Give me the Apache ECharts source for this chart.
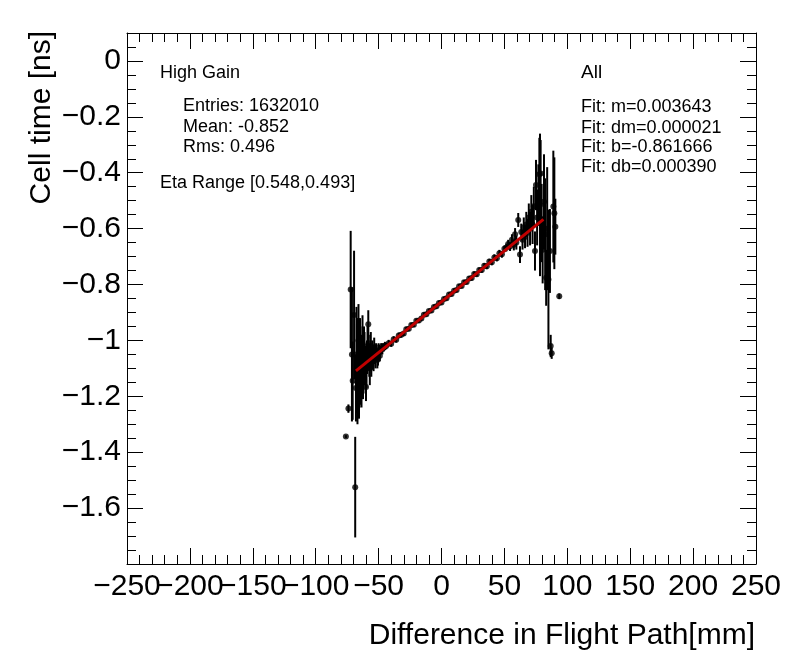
<!DOCTYPE html>
<html>
<head>
<meta charset="utf-8">
<script src="https://cdn.jsdelivr.net/npm/echarts@6/dist/echarts.min.js"></script>
<style>
  html, body { margin: 0; padding: 0; background: #fff; }
  #chart { width: 796px; height: 672px; }
</style>
</head>
<body>
<div id="chart"></div>
<script>
// profile points: x [mm], mean cell time [ns], error
var xs = [
  -76.0, -74.0, -72.2, -71.2, -70.6, -69.5, -68.6, -68.0, -67.2, -66.4,
  -65.6, -64.8, -64.0, -63.2, -62.4, -61.6, -60.8, -60.0, -59.2, -58.2,
  -57.4, -56.6, -55.8, -55.0, -54.0, -53.0, -52.0, -51.0, -50.0, -49.0,
  -48.0, -47.0, -46.0, -45.0, -44.0,
  -67.6, -66.8, -66.0, -65.2, -64.4, -63.6, -62.8, -62.0, -61.2, -59.6,
  -58.8, -57.8, -57.0, -56.2, -54.5, -53.5, -52.5, -51.5, -50.5, -49.5,
  -42, -40, -38, -36, -34, -32, -30, -28, -26, -24,
  -22, -20, -18, -16, -14, -12, -10, -8, -6, -4,
  -2, 0, 2, 4, 6, 8, 10, 12, 14, 16,
  18, 20, 22, 24, 26, 28, 30, 32, 34, 36,
  38, 40, 42, 44, 46, 48,
  50.0, 51.5, 53.0, 54.5, 56.0, 57.5, 58.5, 59.5, 61.0, 62.4,
  63.4, 64.4, 65.4, 66.4, 67.4, 68.4, 69.4, 70.4, 71.4, 72.4,
  73.4, 74.3, 75.1, 76.0, 77.0, 77.8, 78.3, 78.8, 79.6, 80.4,
  81.5, 82.4, 83.2, 84.0, 85.0, 86.2, 86.8, 87.6, 88.9, 89.7,
  90.5, 93.6
];
var ys = [
  -1.344, -1.244, -0.818, -1.050, -1.144, -0.909, -1.525, -1.170, -1.100, -1.060,
  -1.160, -1.020, -1.120, -1.070, -1.130, -1.030, -1.090, -1.167, -1.060, -0.942,
  -1.080, -1.050, -1.090, -1.040, -1.070, -1.050, -1.040, -1.070, -1.035, -1.055,
  -1.030, -1.030, -1.025, -1.020, -1.020,
  -1.050, -1.150, -1.000, -1.100, -1.060, -1.140, -1.010, -1.100, -1.050, -1.100,
  -1.020, -1.040, -1.100, -1.020, -1.060, -1.030, -1.065, -1.045, -1.060, -1.040,
  -1.010, -1.012, -0.996, -0.998, -0.982, -0.980, -0.975, -0.960, -0.958, -0.945,
  -0.944, -0.930, -0.929, -0.922, -0.908, -0.906, -0.895, -0.893, -0.880, -0.878,
  -0.866, -0.864, -0.852, -0.849, -0.836, -0.834, -0.822, -0.820, -0.806, -0.805,
  -0.792, -0.791, -0.778, -0.777, -0.762, -0.763, -0.748, -0.748, -0.733, -0.735,
  -0.718, -0.720, -0.703, -0.706, -0.688, -0.692,
  -0.672, -0.668, -0.655, -0.664, -0.640, -0.658, -0.620, -0.650, -0.569, -0.693,
  -0.612, -0.640, -0.595, -0.630, -0.585, -0.615, -0.560, -0.600, -0.540, -0.585,
  -0.520, -0.680, -0.444, -0.560, -0.480, -0.405, -0.515, -0.403, -0.580, -0.676,
  -0.504, -0.620, -0.776, -0.600, -0.782, -0.680, -1.020, -1.046, -0.521, -0.545,
  -0.593, -0.842
];
var errs = [
  0.005, 0.015, 0.210, 0.240, 0.140, 0.230, 0.180, 0.120, 0.160, 0.140,
  0.120, 0.100, 0.110, 0.090, 0.080, 0.080, 0.070, 0.050, 0.060, 0.050,
  0.050, 0.050, 0.040, 0.040, 0.040, 0.035, 0.030, 0.030, 0.025, 0.020,
  0.020, 0.020, 0.015, 0.015, 0.012,
  0.170, 0.150, 0.130, 0.140, 0.110, 0.100, 0.100, 0.090, 0.080, 0.070,
  0.070, 0.060, 0.060, 0.050, 0.045, 0.040, 0.035, 0.030, 0.030, 0.025,
  0.012, 0.011, 0.011, 0.010, 0.010, 0.010, 0.009, 0.009, 0.009, 0.008,
  0.008, 0.008, 0.008, 0.008, 0.008, 0.008, 0.008, 0.008, 0.008, 0.008,
  0.008, 0.008, 0.008, 0.008, 0.008, 0.008, 0.008, 0.008, 0.008, 0.008,
  0.008, 0.008, 0.008, 0.009, 0.009, 0.009, 0.009, 0.010, 0.010, 0.010,
  0.010, 0.011, 0.011, 0.011, 0.012, 0.012,
  0.012, 0.014, 0.015, 0.016, 0.020, 0.020, 0.022, 0.025, 0.025, 0.030,
  0.030, 0.035, 0.035, 0.040, 0.045, 0.050, 0.050, 0.060, 0.060, 0.070,
  0.070, 0.070, 0.090, 0.100, 0.110, 0.130, 0.255, 0.120, 0.140, 0.120,
  0.170, 0.200, 0.100, 0.220, 0.250, 0.150, 0.040, 0.020, 0.200, 0.200,
  0.100, 0.010
];

// fit line end points (m=0.003643, b=-0.861666)
var fitX = [-68, 81];
var fitY = [-1.109, -0.567];

var xTicks = { min: -250, max: 250, step: 50 };
var yTicks = { min: -1.8, max: 0.1, step: 0.2 };

var chart = echarts.init(document.getElementById('chart'));

var points = xs.map(function (x, i) { return [x, ys[i], errs[i]]; });
var fitLine = fitX.map(function (x, i) { return [x, fitY[i]]; });

var FONT = '"Liberation Sans", Arial, Helvetica, sans-serif';

function minus(v) {
  return String(v).replace('-', '\u2212');
}

// the bottom labels touch each other, so they are split over two axes
// (odd / even multiples of 50) to stop echarts hiding any of them
function xAxisDef(pos, labels, parity, ticks) {
  return {
    type: 'value', position: pos,
    min: xTicks.min, max: xTicks.max, interval: xTicks.step,
    axisLine: { show: ticks, onZero: false, lineStyle: { color: '#000', width: 1 } },
    axisTick: { show: ticks, inside: true, length: 16, lineStyle: { color: '#000', width: 1 } },
    minorTick: { show: ticks, splitNumber: 5, length: 9, lineStyle: { color: '#000', width: 1 } },
    splitLine: { show: false },
    axisLabel: {
      show: labels, color: '#000', fontSize: 30, fontFamily: FONT, margin: 8,
      formatter: function (v) {
        var k = Math.round(v / xTicks.step);
        if (Math.abs(k % 2) !== parity) return '';
        return minus(v);
      }
    }
  };
}

function yAxisDef(pos, step, len, line, labels) {
  return {
    type: 'value', position: pos,
    min: yTicks.min, max: yTicks.max, interval: step,
    axisLine: { show: line, onZero: false, lineStyle: { color: '#000', width: 1 } },
    axisTick: { show: true, inside: true, length: len, lineStyle: { color: '#000', width: 1 } },
    splitLine: { show: false },
    axisLabel: {
      show: labels, color: '#000', fontSize: 30, fontFamily: FONT, margin: 6,
      formatter: function (v) {
        var k = Math.round(v / yTicks.step);
        if (Math.abs(v - k * yTicks.step) > 1e-6 || v < -1.7 || v > 0.05) return '';
        return minus(Math.round(v * 10) / 10);
      }
    }
  };
}

var txt = function (text, x, y, size, align) {
  return {
    type: 'text', x: x, y: y,
    style: {
      text: text, fill: '#000', font: size + 'px ' + FONT,
      align: align || 'left', verticalAlign: 'middle'
    }
  };
};

var option = {
  backgroundColor: '#fff',
  animation: false,
  grid: { left: 127, right: 40, top: 33, bottom: 108, containLabel: false },
  xAxis: [
    xAxisDef('bottom', true, 0, true),
    xAxisDef('top', false, 0, true),
    xAxisDef('bottom', true, 1, false)
  ],
  yAxis: [
    yAxisDef('left', yTicks.step, 16, true, true),
    yAxisDef('left', 0.05, 9, false, false),
    yAxisDef('right', yTicks.step, 16, true, false),
    yAxisDef('right', 0.05, 9, false, false)
  ],
  series: [
    {
      // error bars
      type: 'custom',
      xAxisIndex: 0, yAxisIndex: 0,
      data: points,
      z: 2,
      renderItem: function (params, api) {
        var x = api.value(0), y = api.value(1), e = api.value(2);
        var p1 = api.coord([x, y + e]);
        var p2 = api.coord([x, y - e]);
        return {
          type: 'line',
          shape: { x1: p1[0], y1: p1[1], x2: p2[0], y2: p2[1] },
          style: { stroke: '#000', lineWidth: 2 }
        };
      }
    },
    {
      type: 'scatter',
      xAxisIndex: 0, yAxisIndex: 0,
      data: points,
      symbol: 'circle', symbolSize: 6,
      itemStyle: { color: '#000' },
      z: 3
    },
    {
      type: 'line',
      xAxisIndex: 0, yAxisIndex: 0,
      data: fitLine,
      showSymbol: false,
      lineStyle: { color: '#c00000', width: 3 },
      z: 4
    }
  ],
  graphic: [
    txt('High Gain', 160, 73, 18),
    txt('Entries: 1632010', 183, 106, 18),
    txt('Mean: -0.852', 183, 127, 18),
    txt('Rms: 0.496', 183, 147, 18),
    txt('Eta Range [0.548,0.493]', 160, 183, 18),
    txt('All', 581, 73, 19),
    txt('Fit: m=0.003643', 581, 107, 18),
    txt('Fit: dm=0.000021', 581, 128, 18),
    txt('Fit: b=-0.861666', 581, 147, 18),
    txt('Fit: db=0.000390', 581, 167, 18),
    txt('Difference in Flight Path[mm]', 755, 636, 30, 'right'),
    {
      type: 'text', x: 42, y: 31, rotation: Math.PI / 2,
      style: {
        text: 'Cell time [ns]', fill: '#000', font: '30px ' + FONT,
        align: 'right', verticalAlign: 'middle'
      }
    }
  ]
};

chart.setOption(option);
</script>
</body>
</html>
